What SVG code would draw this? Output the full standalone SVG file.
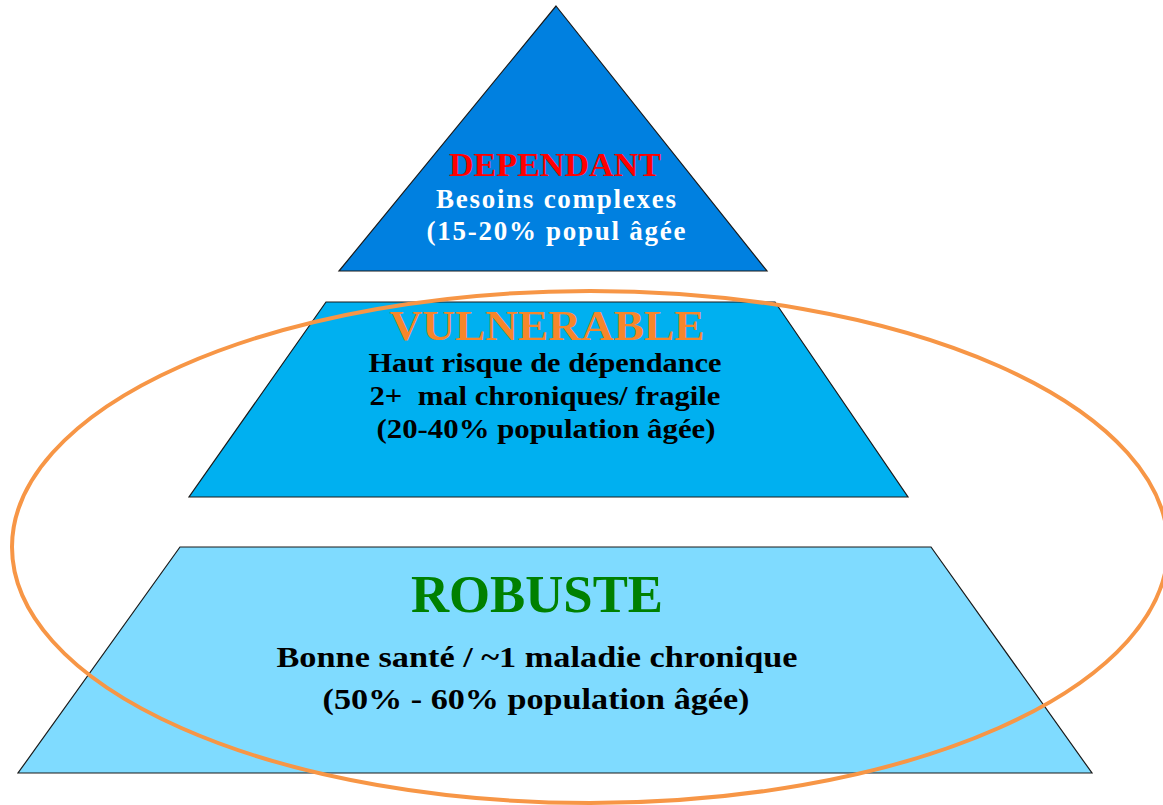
<svg xmlns="http://www.w3.org/2000/svg" width="1163" height="805" viewBox="0 0 1163 805">
<style>
.shape{stroke:#1a1a1a;stroke-width:1.2}
.t{font-family:"Liberation Serif","Times New Roman",serif;font-weight:bold;text-anchor:middle}
</style>
<rect width="1163" height="805" fill="#ffffff"/>
<g id="dependant">
<polygon class="shape" points="556,6 767,271 339,271" fill="#0080E0"/>
<text class="t" x="555" y="176" font-size="34" fill="#FF0000" textLength="212" lengthAdjust="spacingAndGlyphs">DEPENDANT</text>
<text class="t" x="556" y="208" font-size="27" fill="#ffffff" textLength="240" lengthAdjust="spacing">Besoins complexes</text>
<text class="t" x="556" y="240" font-size="27" fill="#ffffff" textLength="259" lengthAdjust="spacing">(15-20% popul âgée</text>
</g>
<g id="vulnerable">
<polygon class="shape" points="326,302 775,302 908,497 189,497" fill="#00B0F0"/>
<text class="t" x="547" y="340" font-size="43" fill="#F7862A" textLength="315" lengthAdjust="spacingAndGlyphs">VULNERABLE</text>
<text class="t" x="545" y="372" font-size="27" fill="#000000" textLength="353" lengthAdjust="spacingAndGlyphs">Haut risque de dépendance</text>
<text class="t" x="545" y="405" font-size="27" fill="#000000" textLength="351" lengthAdjust="spacingAndGlyphs" xml:space="preserve">2+  mal chroniques/ fragile</text>
<text class="t" x="546" y="438" font-size="27" fill="#000000" textLength="339" lengthAdjust="spacingAndGlyphs">(20-40% population âgée)</text>
</g>
<g id="robuste">
<polygon class="shape" points="180,547 931,547 1092,773 18,773" fill="#7FDBFF"/>
<text class="t" x="537" y="612" font-size="53" fill="#008000" textLength="252" lengthAdjust="spacingAndGlyphs">ROBUSTE</text>
<text class="t" x="537" y="667" font-size="30" fill="#000000" textLength="521" lengthAdjust="spacingAndGlyphs">Bonne santé / ~1 maladie chronique</text>
<text class="t" x="536" y="709" font-size="30" fill="#000000" textLength="427" lengthAdjust="spacingAndGlyphs">(50% - 60% population âgée)</text>
</g>
<g id="connectors">
<ellipse cx="590" cy="547" rx="578" ry="256" fill="none" stroke="#F79646" stroke-width="4"/>
</g>
</svg>
